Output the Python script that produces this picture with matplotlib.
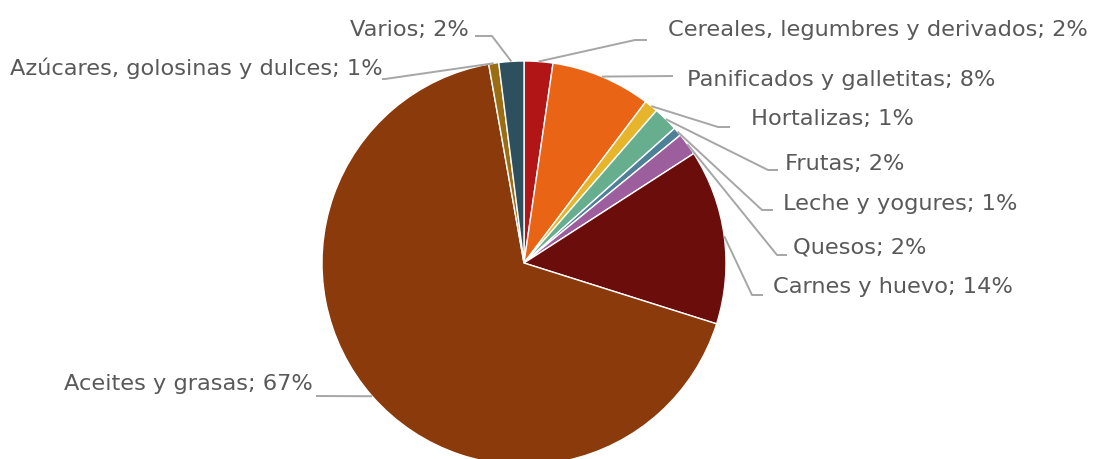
import numpy as np
import matplotlib
matplotlib.use('Agg')
from matplotlib import pyplot as plt

W, H = 1099, 459

categorias = ['Cereales, legumbres y derivados', 'Panificados y galletitas', 'Hortalizas',
              'Frutas', 'Leche y yogures', 'Quesos', 'Carnes y huevo', 'Aceites y grasas',
              'Azúcares, golosinas y dulces', 'Varios']
porcentajes = [2.3, 8.0, 1.1, 2.0, 0.7, 1.8, 14.0, 67.4, 0.8, 2.0]
colores = ['#B11516', '#E96414', '#E6B52B', '#67AE8E', '#4E8098', '#9C5E9C',
           '#6A0D0B', '#8A3A0B', '#9A6D13', '#2E4F5D']

# label layout in pixels (y down): text anchor x, baseline y, alignment, leader end x, leader y, elbow x
etiquetas = [
    (668, 36, 'left', 647, 40, 635),
    (687, 86, 'left', 673, 76, None),
    (751, 125, 'left', 730, 127, 718),
    (785, 170, 'left', 778, 170, 768),
    (783, 210, 'left', 773, 210, 762),
    (793, 254, 'left', 787, 255, 777),
    (773, 293, 'left', 763, 295, 752),
    (313, 390, 'right', 316, 396, None),
    (383, 75, 'right', 382, 79, 385),
    (469, 36, 'right', 475, 36, 492),
]

CX, CY, R = 524, H - 263, 202

def main():
	fig = plt.figure(figsize=(W / 100, H / 100), dpi=100)
	ax = fig.add_axes([0, 0, 1, 1])
	wedges, _ = ax.pie(porcentajes, colors=colores, startangle=90, counterclock=False,
	                   center=(CX, CY), radius=R,
	                   wedgeprops=dict(edgecolor='white', linewidth=1.0))
	ax.set_xlim(0, W)
	ax.set_ylim(0, H)
	ax.set_aspect('equal')
	ax.axis('off')

	total = sum(porcentajes)
	for w, nombre, val, lab in zip(wedges, categorias, porcentajes, etiquetas):
		tx, ty, ha, lx, ly, ex = lab
		ang = np.deg2rad((w.theta1 + w.theta2) / 2)
		px, py = CX + R * np.cos(ang), CY + R * np.sin(ang)
		if ex is None:
			xs, ys = [px, lx], [py, H - ly]
		else:
			xs, ys = [px, ex, lx], [py, H - ly, H - ly]
		ax.plot(xs, ys, color='#A6A6A6', lw=1.4, solid_capstyle='butt', zorder=1)
		ax.text(tx, H - ty, f'{nombre}; {round(val / total * 100):.0f}%', ha=ha, va='baseline',
		        fontsize=16.2, color='#595959', family='DejaVu Sans')

	fig.savefig('out.png', dpi=100)


main()
